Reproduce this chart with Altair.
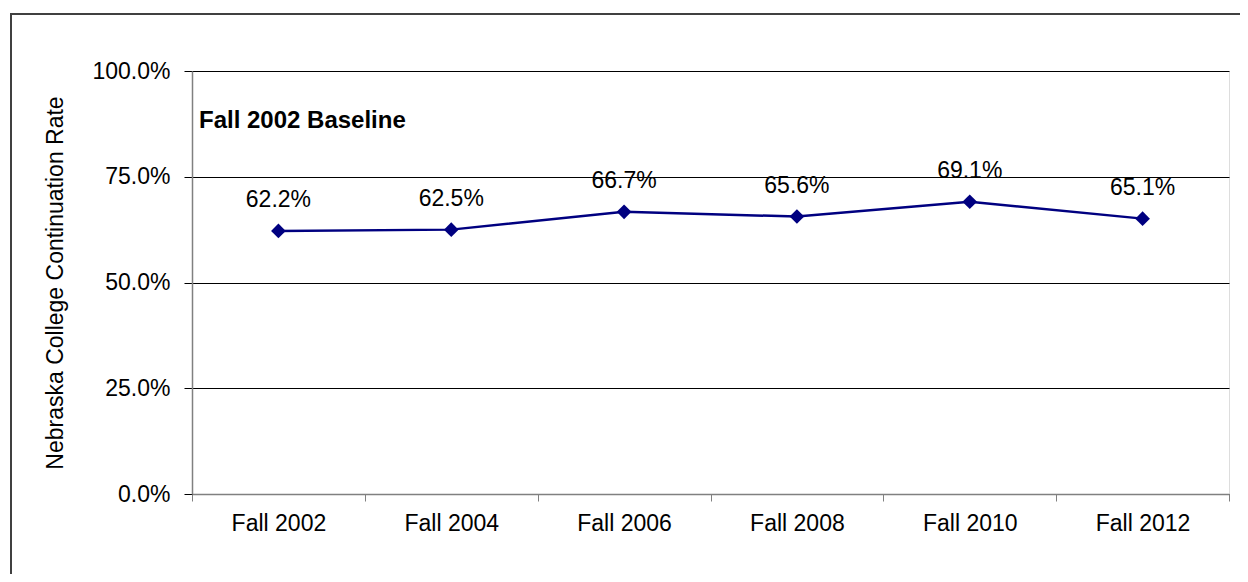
import altair as alt
import pandas as pd

categories = ["Fall 2002", "Fall 2004", "Fall 2006", "Fall 2008", "Fall 2010", "Fall 2012"]
rates = [0.622, 0.625, 0.667, 0.656, 0.691, 0.651]
y_ticks = [0.0, 0.25, 0.5, 0.75, 1.0]
annotation = "Fall 2002 Baseline"
y_title = "Nebraska College Continuation Rate"

df = pd.DataFrame({"term": categories, "rate": rates})
FONT = "Liberation Sans"
FS = 23
W, H = 1037, 423

x_enc = alt.X(
    "term:N",
    sort=categories,
    scale=alt.Scale(type="band", paddingInner=0, paddingOuter=0),
    axis=alt.Axis(
        title=None,
        tickBand="extent",
        tickSize=7,
        tickColor="#808080",
        domainColor="#808080",
        domainWidth=1.5,
        labelFont=FONT,
        labelFontSize=FS,
        labelColor="black",
        labelPadding=11,
        labelAngle=0,
        grid=False,
    ),
)
y_enc = alt.Y(
    "rate:Q",
    scale=alt.Scale(domain=[0, 1], nice=False, zero=True),
    axis=alt.Axis(
        values=y_ticks,
        format=".1%",
        title=y_title,
        titleFont=FONT,
        titleFontSize=FS,
        titleFontWeight="normal",
        titleColor="black",
        titleAngle=270,
        titleX=-130,
        titleY=H / 2,
        titleAlign="center",
        titleBaseline="alphabetic",
        labelFont=FONT,
        labelFontSize=FS,
        labelColor="black",
        labelPadding=14,
        tickSize=8,
        tickColor="black",
        domainColor="#808080",
        domainWidth=1.5,
        grid=True,
        gridColor="black",
        gridWidth=1,
    ),
)

base = alt.Chart(df)

border = alt.Chart(pd.DataFrame({"a": [0]})).mark_rect(
    fill=None, stroke="#404040", strokeWidth=2, clip=False
).encode(
    x=alt.value(-181), x2=alt.value(2000), y=alt.value(-57), y2=alt.value(1000)
)

line = base.mark_line(color="#000080", strokeWidth=2.5).encode(x=x_enc, y=y_enc)
points = base.mark_point(
    shape="diamond", filled=True, size=215, color="#000080", opacity=1
).encode(x=x_enc, y=y_enc)
labels = base.mark_text(
    font=FONT, fontSize=FS, color="black", baseline="middle", dy=-31
).encode(x=x_enc, y=y_enc, text=alt.Text("rate:Q", format=".1%"))

note = alt.Chart(pd.DataFrame({"t": [annotation]})).mark_text(
    font=FONT, fontSize=24, fontWeight="bold", color="black",
    align="left", baseline="alphabetic"
).encode(x=alt.value(7), y=alt.value(57), text="t:N")

chart = (
    alt.layer(border, line, points, labels, note)
    .properties(
        width=W,
        height=H,
        autosize=alt.AutoSizeParams(type="none"),
        padding={"left": 184, "top": 63, "right": 11, "bottom": 80},
    )
    .configure_view(stroke=None)
    .configure(background="white")
)

chart.save("out.html", embed_options={"renderer": "svg", "actions": False})
